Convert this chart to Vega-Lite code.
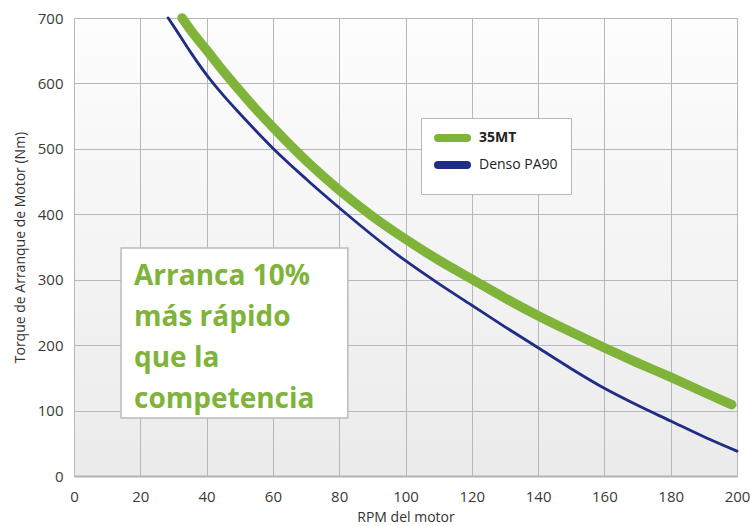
{
  "$schema": "https://vega.github.io/schema/vega-lite/v6.json",
  "width": 663,
  "height": 458,
  "autosize": {"type": "none"},
  "padding": {"left": 74, "top": 18, "right": 13, "bottom": 50},
  "background": "white",
  "config": {
    "view": {
      "stroke": null,
      "fill": {
        "gradient": "linear",
        "x1": 0, "y1": 0, "x2": 0, "y2": 1,
        "stops": [
          {"offset": 0, "color": "#fdfdfd"},
          {"offset": 1, "color": "#ebebeb"}
        ]
      }
    },
    "font": "Open Sans",
    "axis": {
      "labelFont": "Open Sans",
      "labelFontSize": 15,
      "labelColor": "#3a3a3a",
      "titleFont": "Open Sans",
      "titleFontSize": 14,
      "titleFontWeight": "normal",
      "titleColor": "#333333",
      "gridColor": "#b4b8bc",
      "gridWidth": 1,
      "gridOpacity": 1,
      "ticks": false,
      "labelFlush": false
    },
    "legend": {
      "orient": "none",
      "legendX": 347,
      "legendY": 100,
      "fillColor": "white",
      "strokeColor": "#b5b9bd",
      "padding": 13,
      "symbolType": "M-1,0H8.67",
      "symbolSize": 36,
      "symbolStrokeWidth": 8,
      "labelFont": "Open Sans",
      "labelFontSize": 14,
      "labelColor": "#222222",
      "labelOffset": 31,
      "rowPadding": -5
    }
  },
  "datasets": {
    "curves": [
      {"series": "35MT", "rpm": 32.6, "torque": 700},
      {"series": "35MT", "rpm": 36, "torque": 676},
      {"series": "35MT", "rpm": 40, "torque": 651},
      {"series": "35MT", "rpm": 45, "torque": 619},
      {"series": "35MT", "rpm": 50, "torque": 589},
      {"series": "35MT", "rpm": 55, "torque": 560},
      {"series": "35MT", "rpm": 60, "torque": 533},
      {"series": "35MT", "rpm": 70, "torque": 482},
      {"series": "35MT", "rpm": 80, "torque": 437},
      {"series": "35MT", "rpm": 90, "torque": 397},
      {"series": "35MT", "rpm": 100, "torque": 362},
      {"series": "35MT", "rpm": 110, "torque": 330},
      {"series": "35MT", "rpm": 120, "torque": 301},
      {"series": "35MT", "rpm": 130, "torque": 272},
      {"series": "35MT", "rpm": 140, "torque": 245},
      {"series": "35MT", "rpm": 150, "torque": 220},
      {"series": "35MT", "rpm": 160, "torque": 196},
      {"series": "35MT", "rpm": 170, "torque": 173},
      {"series": "35MT", "rpm": 180, "torque": 151},
      {"series": "35MT", "rpm": 190, "torque": 128},
      {"series": "35MT", "rpm": 198.4, "torque": 109},
      {"series": "Denso PA90", "rpm": 28.4, "torque": 700},
      {"series": "Denso PA90", "rpm": 30, "torque": 688},
      {"series": "Denso PA90", "rpm": 35, "torque": 649},
      {"series": "Denso PA90", "rpm": 40, "torque": 613},
      {"series": "Denso PA90", "rpm": 45, "torque": 582},
      {"series": "Denso PA90", "rpm": 50, "torque": 554},
      {"series": "Denso PA90", "rpm": 55, "torque": 527},
      {"series": "Denso PA90", "rpm": 60, "torque": 501},
      {"series": "Denso PA90", "rpm": 70, "torque": 454},
      {"series": "Denso PA90", "rpm": 80, "torque": 410},
      {"series": "Denso PA90", "rpm": 90, "torque": 368},
      {"series": "Denso PA90", "rpm": 100, "torque": 329},
      {"series": "Denso PA90", "rpm": 110, "torque": 294},
      {"series": "Denso PA90", "rpm": 120, "torque": 261},
      {"series": "Denso PA90", "rpm": 130, "torque": 228},
      {"series": "Denso PA90", "rpm": 140, "torque": 196},
      {"series": "Denso PA90", "rpm": 150, "torque": 164},
      {"series": "Denso PA90", "rpm": 160, "torque": 134},
      {"series": "Denso PA90", "rpm": 170, "torque": 108},
      {"series": "Denso PA90", "rpm": 180, "torque": 84},
      {"series": "Denso PA90", "rpm": 190, "torque": 60},
      {"series": "Denso PA90", "rpm": 200, "torque": 38}
    ],
    "note": [{"label": "Arranca 10% más rápido que la competencia"}]
  },
  "layer": [
    {
      "data": {"name": "curves"},
      "transform": [{"filter": "datum.series === 'Denso PA90'"}],
      "mark": {"type": "line", "interpolate": "monotone", "strokeCap": "round", "strokeJoin": "round", "strokeWidth": 2.8},
      "encoding": {
        "x": {
          "field": "rpm", "type": "quantitative",
          "scale": {"domain": [0, 200], "nice": false, "zero": false},
          "axis": {
            "title": "RPM del motor",
            "values": [0, 20, 40, 60, 80, 100, 120, 140, 160, 180, 200],
            "labelPadding": 13,
            "titlePadding": 6,
            "domain": true,
            "domainColor": "#aeb2b6",
            "domainWidth": 2
          }
        },
        "y": {
          "field": "torque", "type": "quantitative",
          "scale": {"domain": [0, 700], "nice": false},
          "axis": {
            "title": "Torque de Arranque de Motor (Nm)",
            "values": [0, 100, 200, 300, 400, 500, 600, 700],
            "labelPadding": 11,
            "titlePadding": 10,
            "domain": false
          }
        },
        "color": {
          "field": "series", "type": "nominal",
          "scale": {"domain": ["35MT", "Denso PA90"], "range": ["#80b33a", "#1f2d84"]},
          "legend": {
            "title": null,
            "encode": {
              "symbols": {"update": {"strokeCap": {"value": "round"}, "strokeWidth": {"value": 8}}},
              "labels": {"update": {"fontWeight": {"signal": "datum.value === '35MT' ? 'bold' : 'normal'"}}}
            }
          }
        }
      }
    },
    {
      "data": {"name": "curves"},
      "transform": [{"filter": "datum.series === '35MT'"}],
      "mark": {"type": "line", "interpolate": "monotone", "strokeCap": "round", "strokeJoin": "round", "strokeWidth": 9.5},
      "encoding": {
        "x": {"field": "rpm", "type": "quantitative"},
        "y": {"field": "torque", "type": "quantitative"},
        "color": {"field": "series", "type": "nominal"}
      }
    },
    {
      "data": {"name": "note"},
      "mark": {"type": "rect", "fill": "white", "stroke": "#b8bcc0", "strokeWidth": 1.5},
      "encoding": {
        "x": {"datum": 14.2, "type": "quantitative"},
        "x2": {"datum": 82.6},
        "y": {"datum": 348.5, "type": "quantitative"},
        "y2": {"datum": 88.6}
      }
    },
    {
      "data": {"name": "note"},
      "mark": {
        "type": "text",
        "align": "left",
        "baseline": "alphabetic",
        "font": "Open Sans",
        "fontSize": 28,
        "fontWeight": "bold",
        "color": "#80b33a",
        "lineHeight": 41,
        "text": ["Arranca 10%", "más rápido", "que la", "competencia"]
      },
      "encoding": {
        "x": {"datum": 18.1, "type": "quantitative"},
        "y": {"datum": 292, "type": "quantitative"}
      }
    }
  ]
}
